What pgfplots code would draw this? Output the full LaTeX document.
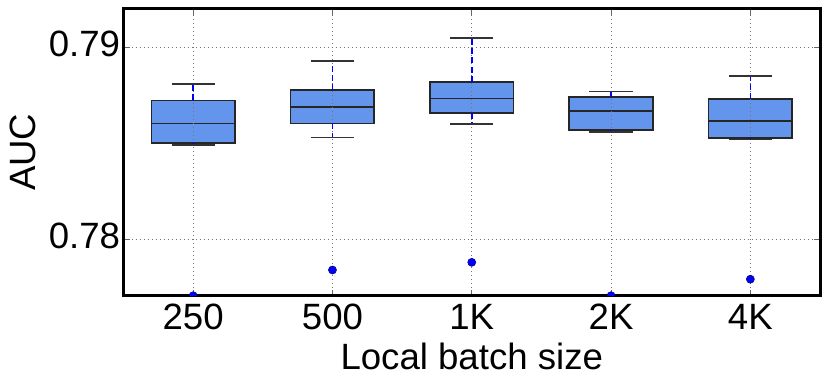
\documentclass[border=0pt]{standalone}
\usepackage{pgfplots}
\pgfplotsset{compat=1.18}
\usepackage{fontspec}
\setmainfont{Liberation Sans}
\definecolor{boxfill}{HTML}{6495ED}
\definecolor{capgray}{HTML}{333333}

% one box: centre, left, right, lower whisker, lower quartile, median, upper quartile, upper whisker
\newcommand{\bx}[8]{%
  \addplot[on layer=axis background, fill=boxfill, draw=black!85, line width=0.8pt]
    coordinates {(#2,#5)(#3,#5)(#3,#7)(#2,#7)} -- cycle;
  \addplot[on layer=axis background, black!85, line width=0.8pt] coordinates {(#2,#6)(#3,#6)};
  \addplot[blue, line width=0.75pt, dash pattern=on 3pt off 1.6pt] coordinates {(#1,#5)(#1,#4)};
  \addplot[blue, line width=0.75pt, dash pattern=on 3pt off 1.6pt] coordinates {(#1,#7)(#1,#8)};
  \addplot[only marks, mark=-, mark size=10.8pt, mark options={draw=capgray, line width=0.8pt, solid}]
    coordinates {(#1,#4)(#1,#8)};
}

\begin{document}
\begin{tikzpicture}
\begin{axis}[
    set layers,
    scale only axis,
    width=348.25pt, height=143.35pt,
    xmin=-0.5, xmax=4.5,
    ymin=0.77706, ymax=0.792,
    xtick={0,1,2,3,4},
    xticklabels={250,500,1K,2K,4K},
    ytick={0.78,0.79},
    font=\fontsize{18.3}{22}\selectfont,
    /pgf/number format/assume math mode=true,
    yticklabel style={/pgf/number format/fixed, /pgf/number format/fixed zerofill,
        /pgf/number format/precision=2, anchor=east, inner sep=0pt, xshift=-1.5pt, yshift=1.5pt},
    xticklabel style={anchor=north, inner sep=0pt, yshift=-4pt},
    xlabel={Local batch size},
    ylabel={AUC},
    xlabel style={at={(axis description cs:0.5,0)}, anchor=base, yshift=-36.8pt, inner sep=0pt},
    ylabel style={at={(axis description cs:-0.145,0.5)}, anchor=center, inner sep=0pt},
    axis line style={line width=1.5pt},
    tick align=inside, tick pos=both,
    major tick length=3pt,
    tick style={black!60, line width=0.4pt},
    grid=major,
    grid style={black!55, line width=0.5pt, dash pattern=on 0.5pt off 1.5pt},
    clip marker paths=true,
]
% centre, left, right, lw, lq, med, uq, uw
\bx{0}{-0.3}{0.3}{0.78490}{0.78503}{0.78604}{0.78724}{0.78810}
\bx{1}{0.7}{1.3}{0.78531}{0.78604}{0.78689}{0.78778}{0.78929}
\bx{2}{1.7}{2.3}{0.78600}{0.78659}{0.78734}{0.78821}{0.79050}
\bx{3}{2.7}{3.3}{0.78560}{0.78568}{0.78670}{0.78741}{0.78771}
\bx{4}{3.7}{4.3}{0.78521}{0.78528}{0.78615}{0.78731}{0.78850}
% outliers
\addplot[only marks, mark=*, mark size=2pt,
    mark options={fill=blue, draw=blue!50!black, line width=0.3pt}]
    coordinates {(0,0.77706)(1,0.77840)(2,0.77880)(3,0.77706)(4,0.77792)};
\end{axis}
\pgfresetboundingbox
\path[use as bounding box]
    ([shift={(-61.75pt,-45.15pt)}]current axis.south west)
    rectangle ([shift={(5pt,4.5pt)}]current axis.north east);
\end{tikzpicture}
\end{document}
